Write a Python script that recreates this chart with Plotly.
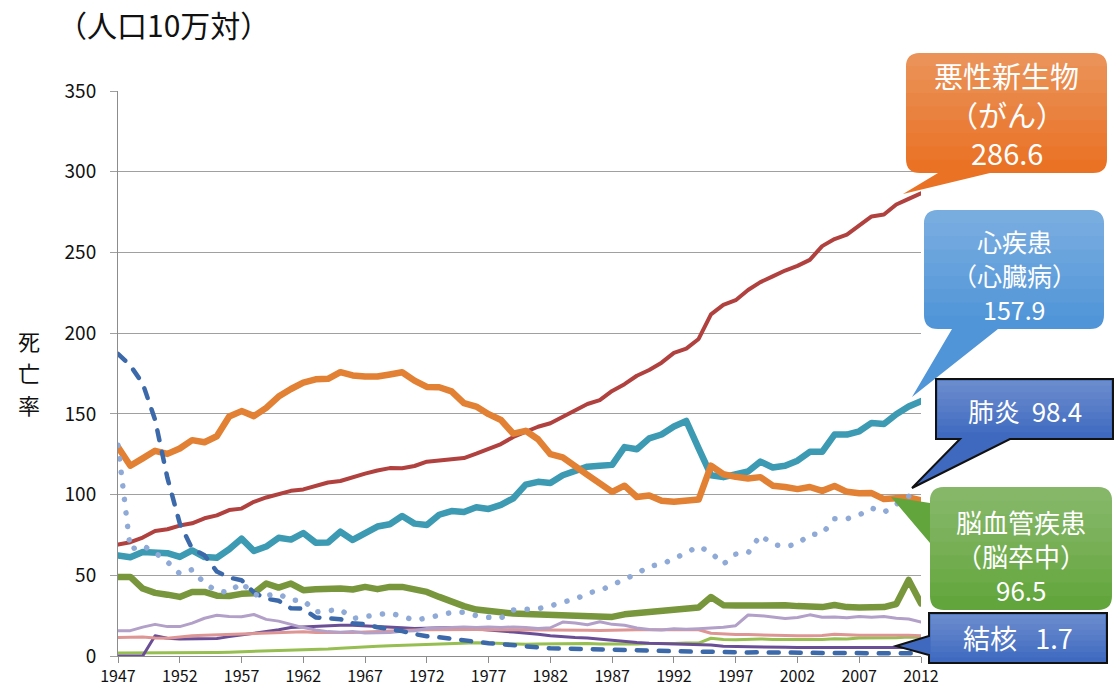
import plotly.graph_objects as go

years = list(range(1947, 2013))

cancer = [69.0, 70.5, 73.4, 77.4, 78.5, 80.8, 82.2, 85.3, 87.1, 90.4, 91.3, 95.5, 98.2, 100.4,
          102.3, 103.2, 105.5, 107.5, 108.4, 110.8, 113.0, 114.9, 116.4, 116.3, 117.7, 120.4,
          121.2, 122.2, 122.6, 125.3, 128.4, 131.3, 135.7, 139.1, 142.0, 144.2, 148.3, 152.5,
          156.1, 158.5, 164.2, 168.4, 173.6, 177.2, 181.7, 187.8, 190.4, 196.4, 211.6, 217.5,
          220.4, 226.7, 231.6, 235.2, 238.8, 241.7, 245.4, 253.9, 258.3, 261.0, 266.9, 272.3,
          273.5, 279.7, 283.2, 286.6]

heart = [62.2, 61.2, 64.4, 64.2, 63.7, 61.4, 65.4, 61.3, 60.9, 66.1, 72.7, 65.1, 67.8, 73.2,
         72.1, 76.2, 70.2, 70.3, 77.0, 71.9, 75.7, 80.2, 81.6, 86.7, 82.0, 81.2, 87.5, 89.8,
         89.2, 92.2, 91.1, 93.6, 97.7, 106.2, 107.9, 107.2, 112.0, 114.6, 117.3, 117.9, 118.4,
         129.4, 128.1, 134.8, 137.2, 142.2, 145.6, 128.6, 112.0, 110.8, 112.2, 114.3, 120.4,
         116.8, 117.8, 121.0, 126.5, 126.5, 137.2, 137.2, 139.2, 144.4, 143.7, 149.8, 154.5, 157.9]

stroke = [129.4, 117.9, 122.4, 127.1, 125.2, 128.5, 133.7, 132.4, 136.1, 148.4, 151.7, 148.6,
          153.7, 160.7, 165.4, 169.4, 171.4, 171.7, 175.8, 173.8, 173.1, 173.1, 174.4, 175.8,
          170.6, 166.7, 166.5, 163.9, 156.7, 154.5, 149.8, 146.2, 137.7, 139.5, 134.3, 125.0,
          123.0, 117.2, 112.2, 106.9, 101.7, 105.5, 98.5, 99.4, 96.2, 95.6, 96.0, 96.9, 117.9,
          112.6, 111.0, 110.0, 110.8, 105.5, 104.7, 103.4, 104.7, 102.3, 105.3, 101.7, 100.8,
          100.9, 97.2, 97.7, 98.2, 96.5]

pneumonia = [130.5, 66.0, 68.5, 64.0, 58.3, 51.0, 53.5, 45.0, 40.3, 39.5, 45.5, 38.0, 37.5, 38.5,
             34.5, 34.6, 27.3, 27.8, 28.8, 23.2, 24.2, 25.0, 26.7, 24.5, 22.2, 23.5, 25.1, 27.0,
             27.1, 25.0, 24.0, 23.6, 28.5, 28.5, 29.3, 31.0, 33.5, 35.0, 39.0, 40.5, 44.0, 47.5,
             51.0, 55.6, 56.9, 60.2, 64.4, 67.9, 64.1, 56.9, 63.1, 63.8, 74.9, 69.2, 67.8, 69.4,
             75.3, 75.7, 85.0, 85.0, 87.4, 91.6, 89.0, 94.1, 98.9, 98.4]

tuberculosis = [187.2, 179.9, 168.8, 146.4, 110.3, 82.2, 66.5, 62.4, 52.3, 48.6, 46.9, 39.4,
                35.5, 34.2, 29.6, 29.3, 23.9, 23.6, 22.8, 20.3, 19.8, 17.8, 16.8, 15.4, 13.6,
                12.2, 11.6, 10.6, 9.5, 8.8, 7.9, 7.4, 6.7, 5.5, 5.3, 4.8, 4.6, 4.5, 3.9, 3.7,
                3.4, 3.2, 3.2, 3.0, 2.8, 2.7, 2.6, 2.6, 2.6, 2.3, 2.2, 2.2, 2.3, 2.1, 2.0, 1.8,
                1.9, 1.8, 1.8, 1.8, 1.7, 1.8, 1.7, 1.7, 1.7, 1.7]

accidents = [49.0, 49.0, 41.8, 39.1, 38.0, 36.6, 39.7, 39.7, 37.4, 37.2, 38.5, 38.9, 44.9, 42.4,
             44.9, 40.8, 41.4, 41.8, 41.8, 41.2, 42.8, 41.4, 42.8, 42.8, 41.2, 39.7, 36.6, 33.5,
             30.9, 28.8, 27.8, 27.4, 26.3, 26.0, 25.7, 25.5, 25.5, 25.5, 25.3, 24.8, 24.2, 25.8,
             26.5, 27.1, 27.8, 28.6, 29.0, 30.0, 36.5, 31.5, 31.3, 31.3, 32.2, 31.4, 31.4, 30.9,
             31.0, 30.3, 31.6, 30.3, 30.1, 30.3, 30.3, 32.2, 47.1, 32.6]

suicide = [15.7, 15.7, 17.9, 19.6, 18.2, 18.2, 20.4, 23.4, 25.2, 24.5, 24.3, 25.7, 22.7, 21.6,
           19.6, 17.6, 16.1, 15.1, 14.7, 15.2, 14.2, 14.5, 14.5, 15.3, 15.6, 17.0, 17.4, 17.5,
           18.0, 17.6, 17.9, 17.6, 18.0, 17.7, 17.1, 17.5, 21.0, 20.4, 19.4, 21.2, 19.6, 19.1,
           17.3, 16.4, 16.1, 16.9, 16.6, 16.9, 17.2, 17.8, 18.8, 25.4, 25.0, 24.1, 23.3, 23.8,
           25.5, 24.0, 24.2, 23.7, 24.4, 24.0, 24.4, 23.4, 22.9, 21.0]

liver = [11.5, 11.5, 11.8, 11.2, 11.0, 11.8, 12.6, 12.9, 13.2, 13.6, 13.8, 14.0, 14.3, 14.8,
         15.0, 15.0, 14.6, 14.5, 14.5, 14.6, 14.8, 15.2, 15.5, 16.0, 16.1, 16.3, 16.4, 16.5,
         16.5, 16.4, 16.3, 16.3, 16.2, 16.3, 16.3, 16.2, 16.1, 16.0, 16.0, 15.8, 15.8, 15.9,
         16.2, 16.3, 16.4, 16.5, 16.4, 16.3, 14.1, 13.6, 13.3, 13.3, 13.1, 12.8, 12.5, 12.5,
         12.6, 12.7, 13.5, 13.1, 12.9, 12.9, 12.7, 12.8, 12.8, 12.5]

hypertension = [0.0, 0.0, 0.0, 12.5, 11.0, 10.5, 10.5, 10.4, 10.8, 12.0, 13.0, 13.8, 14.9, 16.2,
                17.6, 18.0, 18.3, 18.6, 19.1, 19.1, 18.6, 18.1, 17.8, 17.5, 17.1, 17.3, 17.6,
                17.6, 17.3, 16.8, 16.3, 15.5, 14.8, 14.3, 13.5, 12.5, 11.8, 11.4, 11.2, 10.4,
                9.8, 9.0, 8.3, 7.9, 7.6, 7.4, 7.2, 7.0, 6.8, 6.0, 5.8, 5.6, 5.6, 5.5, 5.4, 5.3,
                5.3, 5.2, 5.2, 5.1, 5.1, 5.1, 5.1, 5.2, 5.2, 5.2]

diabetes = [1.9, 1.9, 1.9, 1.9, 2.0, 2.0, 2.0, 2.1, 2.2, 2.4, 2.6, 2.7, 2.9, 3.2, 3.5, 3.7, 3.9,
            4.3, 4.8, 5.3, 5.7, 6.0, 6.3, 6.6, 6.8, 7.0, 7.2, 7.6, 8.0, 8.2, 8.0, 7.8, 7.2, 7.3,
            7.5, 7.6, 7.6, 7.6, 7.7, 7.5, 7.4, 7.4, 7.5, 7.7, 7.6, 7.7, 8.0, 8.0, 11.0, 10.2,
            10.0, 10.3, 10.6, 10.2, 10.2, 10.1, 10.4, 10.2, 10.7, 10.6, 11.2, 11.2, 10.9, 11.3,
            11.7, 11.5]

tick_years = list(range(1947, 2013, 5))
y_ticks = [0, 50, 100, 150, 200, 250, 300, 350]

FONT = "Noto Sans CJK JP"

# (name, values, color, width, dash)
series = [
    ("糖尿病", diabetes, "#96BE50", 3, "solid"),
    ("高血圧性疾患", hypertension, "#6A4E96", 3, "solid"),
    ("肝疾患", liver, "#DE9694", 3, "solid"),
    ("自殺", suicide, "#B2A0C8", 3, "solid"),
    ("不慮の事故", accidents, "#78963C", 6.5, "solid"),
    ("心疾患", heart, "#3C9AB2", 6.5, "solid"),
    ("悪性新生物", cancer, "#B0413E", 4, "solid"),
    ("脳血管疾患", stroke, "#E28034", 6.5, "solid"),
    ("結核", tuberculosis, "#3C69AA", 4.5, "10px,12px"),
    ("肺炎", pneumonia, "#8FAAD7", 5.5, "0.1px,13.5px"),
]

fig = go.Figure()
for name, vals, color, w, dash in series:
    fig.add_trace(go.Scatter(x=years, y=vals, mode="lines", name=name,
                             line=dict(color=color, width=w, dash=dash),
                             showlegend=False, hoverinfo="x+y+name"))

W, H = 1120, 691
L, R, T, B = 118, 921, 91, 656


def px(X):
    return (X - L) / (R - L)


def py(Y):
    return (B - Y) / (B - T)


def P(X, Y):
    return f"{px(X):.5f},{py(Y):.5f}"


def callout_path(x0, y0, x1, y1, r, edge, a, b, tip):
    s = f"M{P(x0 + r, y0)} L{P(x1 - r, y0)} "
    if r:
        s += f"Q{P(x1, y0)} {P(x1, y0 + r)} "
    s += f"L{P(x1, y1 - r)} "
    if r:
        s += f"Q{P(x1, y1)} {P(x1 - r, y1)} "
    if edge == "bottom":
        s += f"L{P(b, y1)} L{P(*tip)} L{P(a, y1)} "
    s += f"L{P(x0 + r, y1)} "
    if r:
        s += f"Q{P(x0, y1)} {P(x0, y1 - r)} "
    if edge == "left":
        s += f"L{P(x0, b)} L{P(*tip)} L{P(x0, a)} "
    s += f"L{P(x0, y0 + r)} "
    if r:
        s += f"Q{P(x0, y0)} {P(x0 + r, y0)} "
    s += "Z"
    return s


def top_band_path(x0, y0, x1, yb, r):
    # upper part of a box (rounded top corners) used as a light overlay for a gradient look
    s = f"M{P(x0 + r, y0)} L{P(x1 - r, y0)} "
    if r:
        s += f"Q{P(x1, y0)} {P(x1, y0 + r)} "
    s += f"L{P(x1, yb)} L{P(x0, yb)} L{P(x0, y0 + r)} "
    if r:
        s += f"Q{P(x0, y0)} {P(x0 + r, y0)} "
    return s + "Z"


callouts = [
    # box, radius, tail edge, base a, base b, tip, fill, border, lines (text, y), size
    ((906, 53, 1107, 173), 14, "bottom", 938, 990, (903, 194), "#EA7224", None,
     [("悪性新生物", 75), ("（がん）", 114), ("286.6", 152)], 29),
    ((924, 210, 1104, 329), 14, "bottom", 952, 998, (912, 397), "#4F95D8", None,
     [("心疾患", 241), ("（心臓病）", 275), ("157.9", 309)], 25),
    ((936, 379, 1113, 439), 0, "bottom", 960, 1010, (912, 488), "#3E69BF", "#111111",
     [("肺炎  98.4", 410)], 26),
    ((930, 487, 1112, 610), 14, "left", 503, 543, (891, 497), "#62A53C", None,
     [("脳血管疾患", 521), ("（脳卒中）", 555), ("96.5", 589)], 26),
    ((929, 613, 1107, 663), 0, "left", 636, 655, (896, 646), "#3E69BF", "#111111",
     [("結核   1.7", 637)], 27),
]

NB = 8
shapes = []
annotations = []
for (x0, y0, x1, y1), r, edge, a, b, tip, fill, border, lines, size in callouts:
    shapes.append(dict(type="path", xref="paper", yref="paper",
                       path=callout_path(x0, y0, x1, y1, r, edge, a, b, tip),
                       fillcolor=fill,
                       line=dict(color=border if border else fill, width=2 if border else 0),
                       layer="above"))
    inset = 1.5 if border else 0
    for k in range(1, NB + 1):
        yb = y0 + (y1 - y0) * k / (NB + 1)
        shapes.append(dict(type="path", xref="paper", yref="paper",
                           path=top_band_path(x0 + inset, y0 + inset, x1 - inset, yb, r),
                           fillcolor="rgba(255,255,255,0.035)", line=dict(width=0),
                           layer="above"))
    for text, ty in lines:
        annotations.append(dict(xref="paper", yref="paper", x=px((x0 + x1) / 2), y=py(ty),
                                text=text, showarrow=False, xanchor="center",
                                yanchor="middle",
                                font=dict(family=FONT, size=size, color="white")))

annotations.append(dict(xref="paper", yref="paper", x=px(163), y=py(24),
                        text="（人口10万対）", showarrow=False, xanchor="center",
                        yanchor="middle", font=dict(family=FONT, size=30, color="#111111")))
for ch, cy in (("死", 340), ("亡", 372), ("率", 404)):
    annotations.append(dict(xref="paper", yref="paper", x=px(29), y=py(cy),
                            text=ch, showarrow=False, xanchor="center", yanchor="middle",
                            font=dict(family=FONT, size=22, color="#111111")))

fig.update_layout(
    width=W, height=H,
    margin=dict(l=L, r=W - R, t=T, b=H - B, pad=0, autoexpand=False),
    paper_bgcolor="white", plot_bgcolor="white",
    shapes=shapes, annotations=annotations,
    xaxis=dict(range=[1947, 2012], tickmode="array", tickvals=tick_years,
               ticktext=[str(v) for v in tick_years], showgrid=False, zeroline=False,
               showline=True, linecolor="#8C8C8C", linewidth=1, automargin=False,
               ticks="outside", ticklen=6, tickcolor="#8C8C8C",
               tickfont=dict(family=FONT, size=16, color="#111111")),
    yaxis=dict(range=[0, 350], tickmode="array", tickvals=y_ticks,
               showgrid=True, gridcolor="#A0A0A0", gridwidth=1, zeroline=False,
               showline=True, linecolor="#8C8C8C", linewidth=1, automargin=False,
               ticks="outside", ticklen=7, tickcolor="#A0A0A0",
               ticklabelstandoff=10,
               tickfont=dict(family=FONT, size=19, color="#111111")),
)

post = """
document.documentElement.style.margin = '0';
document.documentElement.style.overflow = 'hidden';
document.body.style.margin = '0';
document.body.style.overflow = 'hidden';
var gd = document.getElementById('{plot_id}');
gd.querySelectorAll('.scatterlayer .trace path.js-line').forEach(function(p){
  p.style.strokeLinecap = 'round';
  p.style.strokeLinejoin = 'round';
});
"""

fig.write_html("out.html", post_script=post, config={"displayModeBar": False})
